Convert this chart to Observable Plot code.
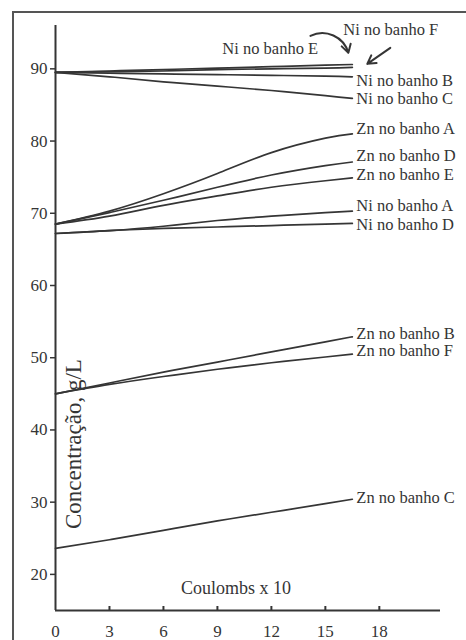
<!DOCTYPE html>
<html><head><meta charset="utf-8">
<script src="https://cdn.jsdelivr.net/npm/d3@7"></script>
<script src="https://cdn.jsdelivr.net/npm/@observablehq/plot@0.6"></script>
<style>
body{margin:0;background:#fff;width:466px;height:640px;overflow:hidden;position:relative;font-family:"Liberation Serif",serif;}
#frame{position:absolute;left:12px;top:11px;width:600px;height:800px;border-left:2px solid #555;border-top:2px solid #555;pointer-events:none;}
</style></head><body><div id="chart"></div><div id="frame"></div>
<script>
// x positions (Coulombs x 10)
const coulombs = [0, 3, 6, 9, 12, 15, 16.5];
// concentrations (g/L)
const niE = [89.5, 89.7, 89.9, 90.1, 90.3, 90.5, 90.6];
const niF = [89.5, 89.6, 89.7, 89.9, 90.0, 90.1, 90.2];
const niB = [89.5, 89.4, 89.3, 89.2, 89.1, 89.0, 88.9];
const niC = [89.5, 88.9, 88.2, 87.6, 87.0, 86.3, 85.9];
const znA = [68.5, 70.3, 72.7, 75.5, 78.4, 80.4, 81.0];
const znD = [68.5, 70.1, 71.8, 73.6, 75.3, 76.6, 77.1];
const znE = [68.5, 69.6, 71.1, 72.4, 73.6, 74.5, 74.9];
const niA = [67.2, 67.6, 68.2, 69.0, 69.6, 70.1, 70.3];
const niD = [67.2, 67.6, 67.9, 68.1, 68.3, 68.5, 68.6];
const znB = [45.0, 46.5, 48.0, 49.4, 50.8, 52.2, 52.9];
const znF = [45.0, 46.3, 47.4, 48.4, 49.3, 50.1, 50.5];
const znC = [23.6, 24.8, 26.1, 27.4, 28.6, 29.8, 30.4];

const seriesNames = ["Ni no banho E","Ni no banho F","Ni no banho B","Ni no banho C","Zn no banho A","Zn no banho D","Zn no banho E","Ni no banho A","Ni no banho D","Zn no banho B","Zn no banho F","Zn no banho C"];
const seriesValues = [niE, niF, niB, niC, znA, znD, znE, niA, niD, znB, znF, znC];

const xTicks = [0, 3, 6, 9, 12, 15, 18];
const yTicks = [20, 30, 40, 50, 60, 70, 80, 90];
const yLabel = "Concentração, g/L";
const xLabel = "Coulombs x 10";

// annotation arrows (data coordinates)
const arrowFrom = [[14.17, 94.56], [18.61, 92.90]];
const arrowTo   = [[16.28, 92.21], [17.33, 90.69]];
const arrowBend = [50, 0];

const rows = seriesNames.flatMap((name, i) => coulombs.map((x, j) => ({name, x, y: seriesValues[i][j]})));
const ends = seriesNames.map((name, i) => ({name, x: coulombs[coulombs.length-1], y: seriesValues[i][coulombs.length-1]}));
const endLabels = ends.filter(d => d.name !== "Ni no banho E" && d.name !== "Ni no banho F");
const nudge = {"Ni no banho B": 4, "Ni no banho C": 0, "Ni no banho A": -5, "Ni no banho D": 1, "Zn no banho D": -6, "Zn no banho A": -5, "Zn no banho C": -2};
const arrows = arrowFrom.map((f, i) => ({x1: f[0], y1: f[1], x2: arrowTo[i][0], y2: arrowTo[i][1], bend: arrowBend[i]}));

const ink = "#353535";
const groups = d3.groups(endLabels, d => nudge[d.name] ?? -3);
const labelMarks = groups.map(([dy, arr]) => Plot.text(arr, {x: "x", y: "y", text: "name", textAnchor: "start", dx: 4, dy, fontSize: 16.5, fill: ink}));
const eEnd = ends.filter(d => d.name === "Ni no banho E");
const fEnd = ends.filter(d => d.name === "Ni no banho F");
const arrowMarks = d3.groups(arrows, d => d.bend).map(([bend, arr]) => Plot.arrow(arr, {x1: "x1", y1: "y1", x2: "x2", y2: "y2", bend, stroke: ink, strokeWidth: 2, headLength: 7}));

const plot = Plot.plot({
  width: 466, height: 640,
  marginLeft: 55, marginRight: 26, marginTop: 25, marginBottom: 30,
  style: {fontFamily: "'Liberation Serif', serif", fontSize: "17px", color: ink, background: "transparent"},
  x: {domain: [0, 21.4]},
  y: {domain: [15, 96]},
  marks: [
    Plot.ruleY([15], {stroke: ink, strokeWidth: 2}),
    Plot.ruleX([0], {stroke: ink, strokeWidth: 2}),
    Plot.axisY({ticks: yTicks, tickSize: 5, tickPadding: 3, label: null, stroke: ink, strokeWidth: 1.5, fontSize: 17}),
    Plot.axisX({ticks: xTicks.filter(d => d > 0), tickSize: -4, tickFormat: () => "", label: null, stroke: ink, strokeWidth: 2}),
    Plot.axisX({ticks: xTicks, tickSize: 0, tickPadding: 14, label: null, fontSize: 17}),
    Plot.line(rows, {x: "x", y: "y", z: "name", curve: "natural", stroke: ink, strokeWidth: 1.7}),
    ...labelMarks,
    Plot.text(eEnd, {x: "x", y: "y", text: "name", textAnchor: "start", dx: -130, dy: -16, fontSize: 16.5, fill: ink}),
    Plot.text(fEnd, {x: "x", y: "y", text: "name", textAnchor: "start", dx: -9, dy: -38, fontSize: 16.5, fill: ink}),
    ...arrowMarks,
    Plot.text([xLabel], {frameAnchor: "bottom", dx: -12, dy: -17, fontSize: 18, fill: ink}),
    Plot.text([yLabel], {frameAnchor: "left", rotate: -90, dx: 18, dy: 211, fontSize: 23, fill: ink})
  ]
});
document.getElementById("chart").appendChild(plot);
</script>
</body></html>
